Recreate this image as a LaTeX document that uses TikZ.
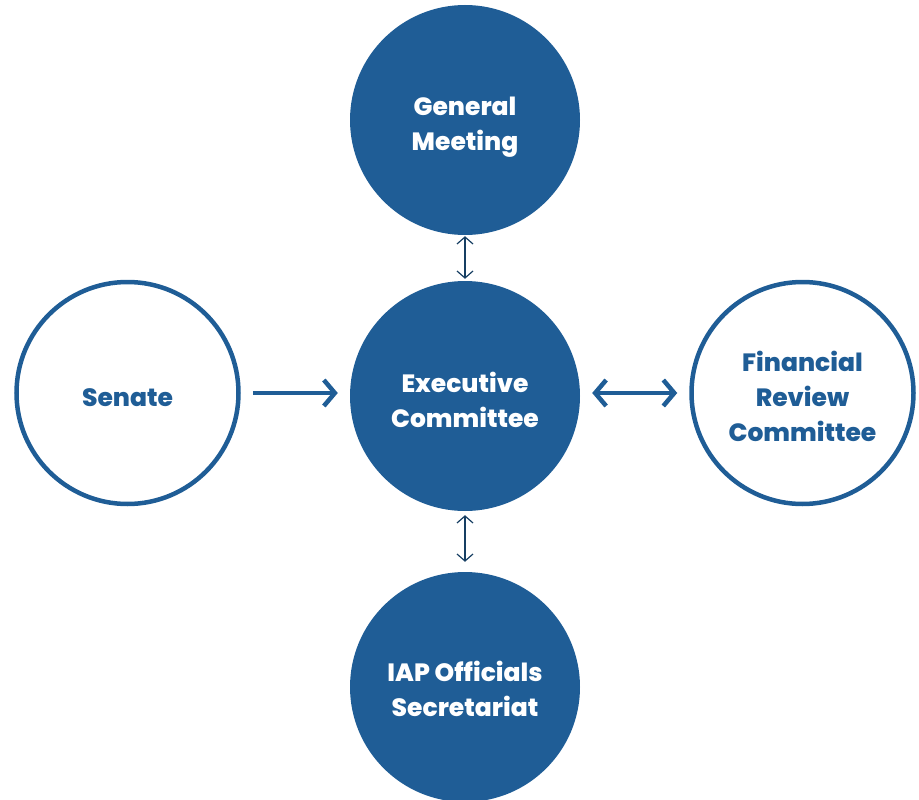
\documentclass[tikz,border=0pt]{standalone}
\usepackage{fontspec}
\setmainfont{Poppins}[BoldFont={Poppins ExtraBold}]
\usetikzlibrary{arrows.meta}
\definecolor{iapblue}{HTML}{1F5D96}
\definecolor{iapdark}{HTML}{173F63}
\newcommand{\ctxt}[2][-12.5pt]{\raisebox{#1}[0pt][0pt]{\begin{tabular}{@{}c@{}}#2\end{tabular}}}
\tikzset{
  x=1pt,y=-1pt,
  filledc/.style={circle,fill=iapblue,minimum size=230pt,inner sep=0pt,align=center,text=white,font=\fontsize{25}{35}\selectfont\bfseries},
  openc/.style={circle,draw=iapblue,line width=4.5pt,fill=white,minimum size=222pt,inner sep=0pt,align=center,text=iapblue,font=\fontsize{25}{35}\selectfont\bfseries},
  thinarrow/.style={draw=iapdark,line width=1.2pt,{Straight Barb[length=7pt,width=16pt]}-{Straight Barb[length=7pt,width=16pt]}},
  thickarrow/.style={draw=iapblue,line width=4.5pt,-{Straight Barb[length=11pt,width=26pt]}},
  dthickarrow/.style={draw=iapblue,line width=4.5pt,{Straight Barb[length=11pt,width=26pt]}-{Straight Barb[length=11pt,width=26pt]}}
}
\begin{document}
\begin{tikzpicture}
\useasboundingbox (0,0) rectangle (919,800);
\node[filledc] (gm) at (465,120) {\ctxt{General\\Meeting}};
\node[filledc] (ec) at (465,396) {\ctxt[-13pt]{Executive\\Committee}};
\node[filledc] (iap) at (465,687) {\ctxt[-11pt]{IAP Officials\\Secretariat}};
\node[openc] (sen) at (127.5,393) {\ctxt[-13pt]{Senate}};
\node[openc] (frc) at (802.5,393) {\ctxt[-13pt]{Financial\\Review\\Committee}};
\draw[thinarrow] ([yshift=-1pt]gm.south) -- ([yshift=2pt]ec.north);
\draw[thinarrow] ([yshift=-4pt]ec.south) -- ([yshift=10pt]iap.north);
\draw[thickarrow] ([xshift=12pt]sen.east) -- ([xshift=-12pt]ec.west |- sen.east);
\draw[dthickarrow] ([xshift=12pt]ec.east |- frc.west) -- ([xshift=-12pt]frc.west);
\end{tikzpicture}
\end{document}
